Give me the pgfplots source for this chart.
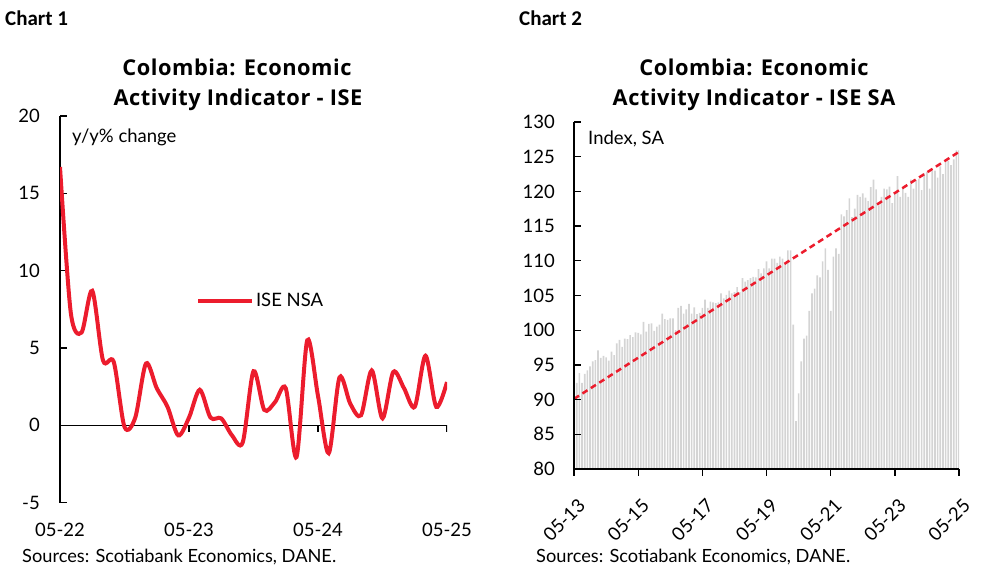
\documentclass[border=0pt]{standalone}
\usepackage{fontspec}
\setmainfont{Lato}
\newfontfamily\titlefont{Open Sans}[LetterSpace=2.5]
\newfontfamily\headfont{Carlito}
\usepackage{pgfplots}
\pgfplotsset{compat=1.18}
\usepackage{pgfplotstable}

\definecolor{scotiared}{RGB}{236,28,45}
\definecolor{bargray}{RGB}{212,212,212}

% Chart 1: ISE NSA, y/y % change, month index 0 = 05-22
\pgfplotstableread{
m  v
0  16.7
1  7.3
2  6.0
3  8.7
4  4.2
5  4.1
6  -0.1
7  0.5
8  4.0
9  2.4
10 1.2
11 -0.65
12 0.5
13 2.3
14 0.5
15 0.45
16 -0.65
17 -1.1
18 3.5
19 1.0
20 1.5
21 2.4
22 -2.05
23 5.5
24 1.9
25 -1.8
26 3.1
27 1.4
28 0.65
29 3.55
30 0.45
31 3.45
32 2.4
33 1.2
34 4.5
35 1.2
36 2.8
}\isensa

% Chart 2: ISE SA index, month index 0 = 05-13
\pgfplotstableread{
m v
0 91.5
1 92.4
2 93.8
3 92.4
4 93.7
5 94.2
6 94.8
7 95.5
8 95.7
9 97.1
10 96.0
11 96.3
12 96.1
13 95.6
14 96.9
15 96.4
16 98.1
17 98.6
18 97.6
19 98.8
20 98.7
21 99.3
22 99.0
23 99.7
24 99.6
25 99.4
26 101.2
27 99.8
28 100.9
29 101.0
30 99.9
31 100.5
32 100.8
33 102.4
34 101.6
35 101.5
36 101.7
37 101.7
38 100.0
39 103.2
40 103.5
41 102.4
42 103.0
43 103.8
44 102.4
45 103.3
46 102.3
47 102.5
48 103.2
49 104.4
50 103.2
51 104.1
52 104.0
53 103.9
54 104.0
55 105.3
56 104.6
57 105.1
58 105.7
59 105.3
60 105.5
61 106.2
62 105.5
63 107.5
64 107.0
65 107.2
66 107.5
67 107.7
68 107.6
69 108.8
70 108.2
71 108.9
72 109.9
73 108.9
74 110.3
75 110.3
76 109.7
77 110.6
78 110.3
79 109.6
80 111.5
81 111.5
82 100.8
83 86.9
84 90.9
85 95.5
86 98.8
87 99.2
88 102.8
89 105.3
90 106.0
91 107.9
92 107.6
93 109.9
94 111.8
95 108.7
96 102.8
97 110.6
98 111.8
99 111.0
100 116.7
101 116.4
102 117.3
103 119.0
104 116.3
105 117.5
106 119.5
107 119.2
108 119.7
109 119.1
110 118.6
111 120.6
112 121.7
113 120.3
114 118.0
115 119.2
116 120.4
117 120.3
118 120.7
119 118.3
120 119.7
121 122.2
122 119.2
123 120.6
124 119.8
125 119.2
126 121.7
127 120.4
128 121.6
129 121.8
130 120.2
131 122.6
132 122.8
133 120.4
134 123.0
135 123.0
136 122.0
137 123.6
138 122.5
139 124.2
140 124.4
141 123.8
142 124.6
143 125.9
144 125.9
}\isesa

\newcommand{\txt}{\fontsize{18.5bp}{22bp}\selectfont}
\newcommand{\src}{\fontsize{18.2bp}{22bp}\selectfont}
\newcommand{\tck}{\fontsize{18.5bp}{22bp}\selectfont}
\newcommand{\ttl}{\titlefont\bfseries\fontsize{21.8bp}{24bp}\selectfont}
\newcommand{\hdr}{\headfont\bfseries\fontsize{21bp}{24bp}\selectfont}

\pgfplotsset{
  chart/.style={
    scale only axis,
    axis lines=left,
    axis line style={-, line width=1.5bp, black},
    tick style={line width=1.3bp, black},
    major tick length=7bp,
    tick align=inside,
    ticklabel style={font=\tck},
    /pgf/number format/assume math mode=true,
  },
}

\begin{document}
\begin{tikzpicture}[x=1bp,y=1bp]
\useasboundingbox (0,0) rectangle (994,579);

% headers and titles
\node[anchor=base west, font=\hdr, inner sep=0pt] at (5,553) {Chart 1};
\node[anchor=base west, font=\hdr, inner sep=0pt] at (519,553) {Chart 2};
\node[anchor=base, font=\ttl, inner sep=0pt] at (237,503) {Colombia: Economic};
\node[anchor=base, font=\ttl, inner sep=0pt] at (238,473) {Activity Indicator - ISE};
\node[anchor=base, font=\ttl, inner sep=0pt] at (754,503) {Colombia: Economic};
\node[anchor=base, font=\ttl, inner sep=0pt] at (754,473) {Activity Indicator - ISE SA};

\begin{axis}[chart,
  at={(60bp,76.3bp)}, anchor=south west,
  width=387bp, height=386.7bp,
  xmin=0, xmax=36, ymin=-5, ymax=20,
  ytick={-5,0,5,10,15,20},
  xtick={0,12,24,36},
  xticklabels={05-22,05-23,05-24,05-25},
  x axis line style={draw=none},
  xtick style={draw=none},
  yticklabel style={inner sep=0pt, anchor=east, xshift=-20bp},
  xticklabel style={inner sep=0pt, anchor=north, yshift=-20bp},
  legend style={draw=none, fill=none, at={(0.351,0.5216)}, anchor=west,
    inner sep=0pt, font=\txt},
  legend image code/.code={\draw[#1] (0bp,0bp) -- (54bp,0bp);},
]
\draw[black, line width=1.5bp] (axis cs:0,0) -- (axis cs:36,0);
\pgfplotsinvokeforeach{12,24,36}{\draw[black, line width=1.3bp] (axis cs:#1,0) -- ++(0bp,-7bp);}
\addplot[scotiared, line width=4bp, smooth] table[x=m, y=v] {\isensa};
\addlegendentry{ISE NSA}
\end{axis}
\node[anchor=base west, font=\txt, inner sep=0pt] at (72,436) {y/y\% change};

\begin{axis}[chart,
  at={(574bp,110bp)}, anchor=south west,
  width=385bp, height=347bp,
  axis on top,
  xmin=0, xmax=144, ymin=80, ymax=130,
  ytick={80,85,...,130},
  xtick={0,24,...,144},
  xticklabels={05-13,05-15,05-17,05-19,05-21,05-23,05-25},
  xtick align=outside,
  yticklabel style={inner sep=0pt, anchor=east, xshift=-19bp},
  xticklabel style={rotate=45, anchor=east, inner sep=0pt, yshift=-24bp, xshift=-13bp},
]
\addplot[ybar, bar width=0.62, fill=bargray, draw=none] table[x=m, y=v] {\isesa};
\addplot[scotiared, line width=2.5bp, dash pattern=on 6bp off 4bp] coordinates {(0,90.1) (144,125.7)};
\end{axis}
\node[anchor=base west, font=\txt, inner sep=0pt] at (588,434) {Index, SA};

\node[anchor=base west, font=\src, inner sep=0pt] at (22,16) {Sources: Scotiabank Economics, DANE.};
\node[anchor=base west, font=\src, inner sep=0pt] at (536,16) {Sources: Scotiabank Economics, DANE.};
\end{tikzpicture}
\end{document}
